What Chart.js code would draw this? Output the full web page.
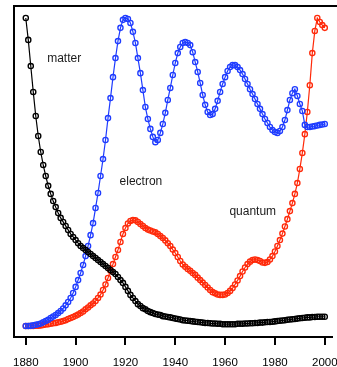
<!DOCTYPE html>
<html><head><meta charset="utf-8">
<script src="https://cdn.jsdelivr.net/npm/chart.js@4/dist/chart.umd.min.js"></script>
<style>html,body{margin:0;padding:0;background:#fff;}canvas{display:block;}</style>
</head><body>
<canvas id="c" width="337" height="367"></canvas>
<script>
const years = [1880,1881,1882,1883,1884,1885,1886,1887,1888,1889,
1890,1891,1892,1893,1894,1895,1896,1897,1898,1899,
1900,1901,1902,1903,1904,1905,1906,1907,1908,1909,
1910,1911,1912,1913,1914,1915,1916,1917,1918,1919,
1920,1921,1922,1923,1924,1925,1926,1927,1928,1929,
1930,1931,1932,1933,1934,1935,1936,1937,1938,1939,
1940,1941,1942,1943,1944,1945,1946,1947,1948,1949,
1950,1951,1952,1953,1954,1955,1956,1957,1958,1959,
1960,1961,1962,1963,1964,1965,1966,1967,1968,1969,
1970,1971,1972,1973,1974,1975,1976,1977,1978,1979,
1980,1981,1982,1983,1984,1985,1986,1987,1988,1989,
1990,1991,1992,1993,1994,1995,1996,1997,1998,1999,2000];

const matter = [100.0,92.9,84.4,76.0,68.2,61.7,56.5,52.3,48.7,45.5,
42.9,40.6,38.6,36.7,35.1,33.8,32.5,31.2,29.9,28.9,
27.9,26.9,26.0,25.3,24.7,24.0,23.4,22.7,22.1,21.4,
20.8,20.1,19.5,18.8,18.2,17.5,16.9,15.9,14.9,14.0,
12.7,11.4,10.1,9.1,8.1,7.1,6.5,5.8,5.4,4.9,
4.5,4.2,3.9,3.7,3.6,3.2,3.1,2.9,2.8,2.6,
2.4,2.3,2.1,1.9,1.8,1.7,1.6,1.5,1.4,1.3,
1.2,1.1,1.0,1.0,0.9,0.8,0.8,0.7,0.7,0.6,
0.6,0.6,0.6,0.6,0.6,0.7,0.7,0.7,0.8,0.8,
0.9,0.9,1.0,1.0,1.1,1.1,1.2,1.3,1.3,1.4,
1.5,1.6,1.7,1.8,1.9,2.0,2.1,2.2,2.3,2.4,
2.5,2.6,2.7,2.8,2.8,2.9,2.9,3.0,3.0,3.0,3.0];

const electron = [0,0,0.1,0.2,0.4,0.6,0.8,1.2,1.6,2.0,
2.6,3.1,3.6,4.2,4.9,5.7,6.7,7.8,9.1,10.7,
12.7,14.9,17.2,19.8,22.7,26.0,29.5,33.4,38.3,43.2,
48.7,54.2,60.4,67.5,74.0,80.8,87.0,92.5,96.8,99.4,
100.0,99.7,98.4,95.5,91.9,87.0,82.1,76.6,71.1,67.2,
64.0,61.4,59.7,60.4,62.7,65.6,69.2,73.4,77.3,81.5,
85.4,88.6,90.6,91.9,92.2,91.9,91.2,88.9,85.7,82.5,
78.9,75.0,71.8,69.5,68.5,68.8,70.5,73.1,76.0,78.6,
80.8,82.8,84.1,84.7,84.7,84.1,83.1,81.8,80.2,78.6,
76.9,75.3,73.7,72.1,70.5,68.8,67.2,65.9,64.6,63.6,
63.0,62.7,63.3,64.6,66.9,70.1,73.4,75.6,76.9,74.7,
72.1,69.8,65.3,64.6,64.6,64.8,64.9,65.1,65.3,65.4,65.6];

const quantum = [0,0,0,0,0.1,0.1,0.2,0.3,0.5,0.6,
0.7,0.9,1.0,1.2,1.4,1.6,1.9,2.3,2.6,2.9,
3.3,3.7,4.2,4.7,5.4,6.0,6.7,7.3,8.1,9.1,
10.2,11.7,13.5,15.6,17.9,20.1,22.4,24.7,27.3,29.9,
31.8,33.3,34.1,34.4,34.3,33.8,33.1,32.5,31.8,31.3,
31.0,30.7,30.4,29.9,29.2,28.6,27.8,26.9,26.0,24.8,
23.7,22.4,21.1,20.0,19.2,18.5,17.9,17.2,16.6,15.7,
14.9,14.1,13.3,12.5,11.7,11.0,10.6,10.2,10.1,10.1,
10.2,10.7,11.4,12.3,13.5,14.8,16.2,17.7,19.0,20.1,
20.9,21.4,21.6,21.4,21.1,20.6,20.5,20.8,21.6,22.7,
24.2,26.0,27.9,30.0,32.3,34.7,37.3,39.9,42.9,46.4,
51.0,56.2,62.3,69.5,78.2,88.6,95.8,100.0,98.7,97.7,96.8];

const tickYears = [1880,1900,1920,1940,1960,1980,2000];
const seriesNames = ['matter','electron','quantum'];
const labelYears = [1895.4,1926.2,1971.1];
const labelValues = [86.7,46.8,37.0];

const colors = ['#000000','#1f3cff','#ff2a0a'];
const seriesData = [matter, electron, quantum];

const datasets = seriesData.map((arr, i) => ({
  label: seriesNames[i],
  data: arr.map((v, j) => ({x: years[j], y: v})),
  borderColor: colors[i],
  backgroundColor: 'rgba(0,0,0,0)',
  borderWidth: 1.2,
  pointRadius: 2.6,
  pointBorderWidth: 1.35,
  pointBorderColor: colors[i],
  pointBackgroundColor: 'rgba(0,0,0,0)',
  tension: 0
}));

const framePlugin = {
  id: 'frame',
  afterDraw(chart) {
    const ctx = chart.ctx, a = chart.chartArea;
    ctx.save();
    ctx.strokeStyle = '#000';
    ctx.lineWidth = 2;
    ctx.beginPath();
    ctx.moveTo(a.left, a.bottom);
    ctx.lineTo(a.left, a.top);
    ctx.lineTo(chart.width + 5, a.top);
    ctx.stroke();
    const xs = chart.scales.x, ys = chart.scales.y;
    ctx.fillStyle = '#1a1a1a';
    ctx.font = '12px "Liberation Sans", Arial, sans-serif';
    ctx.textAlign = 'center';
    ctx.textBaseline = 'middle';
    seriesNames.forEach((n, i) => {
      ctx.fillText(n, xs.getPixelForValue(labelYears[i]), ys.getPixelForValue(labelValues[i]));
    });
    ctx.restore();
  }
};

new Chart(document.getElementById('c'), {
  type: 'line',
  data: { datasets },
  options: {
    responsive: false,
    devicePixelRatio: 1,
    animation: false,
    events: [],
    layout: { padding: { top: 6, left: 14, right: 0, bottom: 0 } },
    plugins: { legend: { display: false }, tooltip: { enabled: false } },
    scales: {
      x: {
        type: 'linear',
        min: 1875.27,
        max: 2002.76,
        afterBuildTicks: (s) => { s.ticks = tickYears.map(v => ({value: v})); },
        afterFit: (s) => { s.height = 30; s.paddingLeft = 0; s.paddingRight = 0; },
        grid: { display: true, drawOnChartArea: false, drawTicks: true, tickLength: 8, color: '#000', lineWidth: 2 },
        border: { display: true, color: '#000', width: 2 },
        ticks: { color: '#000', padding: 11, maxRotation: 0, autoSkip: false,
          font: { family: '"Liberation Sans", Arial, sans-serif', size: 11.5 },
          callback: (v) => String(v) }
      },
      y: {
        display: false,
        min: -3.57,
        max: 103.9
      }
    }
  },
  plugins: [framePlugin]
});
</script>
</body></html>
